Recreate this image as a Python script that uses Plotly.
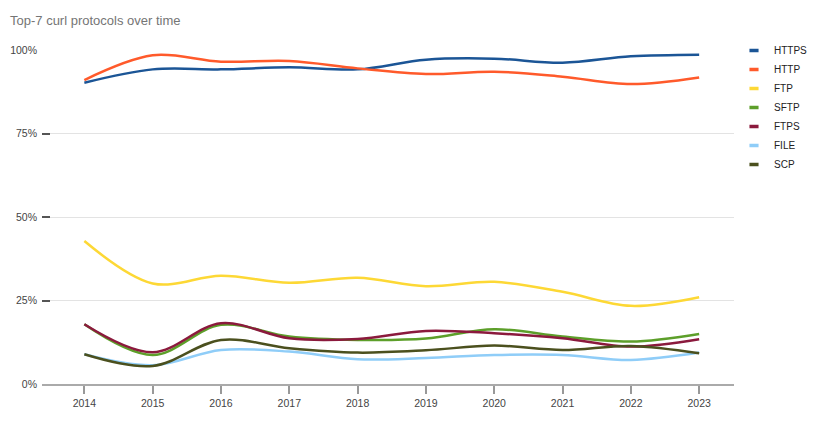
import plotly.graph_objects as go

years = [2014, 2015, 2016, 2017, 2018, 2019, 2020, 2021, 2022, 2023]

series_names = ["HTTPS", "HTTP", "FTP", "SFTP", "FTPS", "FILE", "SCP"]
https = [90.2, 94.2, 94.2, 94.8, 94.2, 97.1, 97.4, 96.2, 98.1, 98.6]
http = [91.0, 98.4, 96.5, 96.7, 94.5, 92.8, 93.5, 92.0, 89.8, 91.8]
ftp = [42.8, 30.1, 32.4, 30.3, 31.8, 29.3, 30.6, 27.6, 23.4, 26.0]
sftp = [17.9, 8.7, 17.7, 14.2, 13.2, 13.6, 16.4, 14.2, 12.7, 15.0]
ftps = [17.9, 9.5, 18.2, 13.7, 13.5, 15.9, 15.2, 13.7, 11.2, 13.4]
file_ = [8.9, 5.6, 10.2, 9.7, 7.4, 7.8, 8.7, 8.7, 7.2, 9.4]
scp = [8.9, 5.4, 13.2, 10.7, 9.4, 10.1, 11.5, 10.2, 11.4, 9.2]

values = [https, http, ftp, sftp, ftps, file_, scp]
colors = ["#1b5596", "#ff5a2b", "#fdd835", "#5d9f2a", "#8b1a3d", "#8fcdf8", "#4b501e"]

y_ticks = [0, 25, 50, 75, 100]
y_tick_labels = ["0%", "25%", "50%", "75%", "100%"]

FONT = "Arial, Liberation Sans, sans-serif"

fig = go.Figure()
for name, vals, col in zip(series_names, values, colors):
    fig.add_trace(go.Scatter(
        x=years, y=vals, mode="lines", name=name,
        line=dict(color=col, width=2.5, shape="spline", smoothing=1.0),
        showlegend=False, legendgroup=name,
    ))
for name, col in zip(series_names, colors):
    fig.add_trace(go.Scatter(
        x=[None], y=[None], mode="markers", name=name, legendgroup=name,
        marker=dict(symbol="line-ew", size=6.5, line=dict(color=col, width=3.5), color=col),
        showlegend=True,
    ))

fig.update_layout(
    width=815, height=433,
    margin=dict(l=42, r=81, t=50, b=49, autoexpand=False),
    paper_bgcolor="white", plot_bgcolor="white",
    font=dict(family=FONT, size=10.5, color="#444444"),
    title=dict(text="Top-7 curl protocols over time", x=10/815, xanchor="left",
               xref="container", y=1-20/433, yanchor="middle", yref="container",
               font=dict(family=FONT, size=13, color="#757575")),
    legend=dict(x=734/815, xref="container", xanchor="left", y=1-36/433, yref="container",
                yanchor="top", font=dict(family=FONT, size=10, color="#222222"),
                itemwidth=30, bgcolor="rgba(0,0,0,0)", tracegroupgap=0),
    xaxis=dict(range=[2013.38, 2023.51], tickvals=years, ticktext=[str(y) for y in years],
               showgrid=False, zeroline=False, showline=True, linecolor="#aaaaaa", linewidth=2,
               ticks="outside", ticklen=8, tickcolor="#999999", tickwidth=1.5,
               tickfont=dict(size=10.5, color="#444444")),
    yaxis=dict(range=[0, 100], tickvals=y_ticks, ticktext=y_tick_labels,
               showgrid=True, gridcolor="#e3e3e3", gridwidth=1, zeroline=False,
               showline=False, ticks="inside", ticklen=8, tickcolor="#555555", tickwidth=1.5,
               ticklabelstandoff=4,
               tickfont=dict(size=10.5, color="#444444")),
    showlegend=True,
)

fig.write_html("out.html", config={"displayModeBar": False},
               post_script="document.body.style.margin='0px';document.body.style.overflow='hidden';")
